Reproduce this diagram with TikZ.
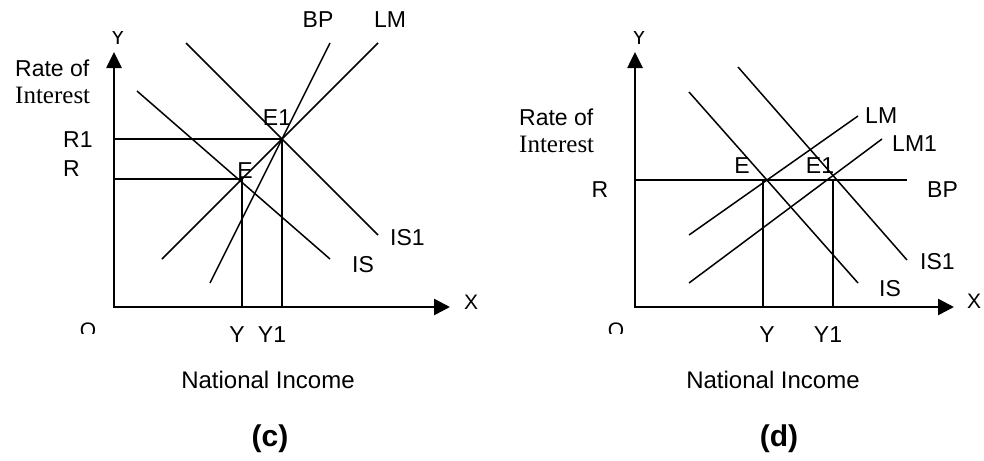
\documentclass[tikz,border=0pt]{standalone}
\usepackage{fontspec}
\setmainfont{Liberation Sans}
\newfontfamily\timesfont{Liberation Serif}
\usetikzlibrary{arrows.meta}

\begin{document}
\begin{tikzpicture}[x=1pt,y=-1pt,
  lbl/.style={font=\fontsize{23}{27}\selectfont,inner sep=0pt},
  small/.style={font=\fontsize{21}{25}\selectfont,inner sep=0pt},
  serif/.style={font=\timesfont\fontsize{25}{29}\selectfont,inner sep=0pt},
  caption/.style={font=\fontsize{24}{28}\selectfont,inner sep=0pt},
  tag/.style={font=\bfseries\fontsize{30}{34}\selectfont,inner sep=0pt},
  axis/.style={line width=2.6pt,{Triangle[length=16pt,width=15pt]}-{Triangle[length=16pt,width=16pt]}},
  curve/.style={line width=1.5pt},
  guide/.style={line width=1.5pt}]
  \useasboundingbox (0,0) rectangle (984,460);
  % panel (c)
  \coordinate (oc) at (114,307);
  \coordinate (ec) at (242,179);
  \coordinate (e1c) at (282,139);
  \draw[axis] (114,52) -- (oc) -- (450,307);
  \draw[guide] (oc |- e1c) -- (e1c) -- (e1c |- oc);
  \draw[guide] (oc |- ec) -- (ec) -- (ec |- oc);
  \draw[curve] (186,43) -- (378,235);
  \draw[curve] (137,91) -- (330,259);
  \draw[curve] (378,43) -- (162,259);
  \draw[curve] (330,43) -- (210,283);
  \begin{scope}
    \clip (90,32) rectangle (150,60);
    \node[small,anchor=base] (yaxc) at (118,45) {Y};
  \end{scope}
  \begin{scope}
    \clip (60,300) rectangle (120,333);
    \node[small,anchor=base] (oric) at (88,337) {O};
  \end{scope}
  \node[lbl,anchor=base] (bpc) at (318,28) {BP};
  \node[lbl,anchor=base] (lmc) at (390,28) {LM};
  \node[lbl,anchor=base west] (ratec) at (15,76) {Rate of};
  \node[serif,anchor=base west] (intc) at (15,103) {Interest};
  \node[lbl,anchor=base west] (r1c) at (63,147) {R1};
  \node[lbl,anchor=base west] (rc) at (63,176) {R};
  \node[lbl,anchor=base] (e1lc) at (277,125) {E1};
  \node[lbl,anchor=base] (elc) at (245,178) {E};
  \node[lbl,anchor=base west] (is1c) at (390,245) {IS1};
  \node[lbl,anchor=base west] (isc) at (352,272) {IS};
  \node[small,anchor=base] (xc) at (471,309) {X};
  \node[lbl,anchor=base] (yc) at (237,342) {Y};
  \node[lbl,anchor=base] (y1c) at (272,342) {Y1};
  \node[caption,anchor=base] (nic) at (268,388) {National Income};
  \node[tag,anchor=base] (tagc) at (270,446) {(c)};
  % panel (d)
  \coordinate (od) at (635,307);
  \coordinate (ed) at (763,180);
  \coordinate (e1d) at (833,180);
  \draw[axis] (635,52) -- (od) -- (954,307);
  \draw[guide] (od |- ed) -- (907,180);
  \draw[guide] (ed) -- (ed |- od);
  \draw[guide] (e1d) -- (e1d |- od);
  \draw[curve] (689,92) -- (858,283);
  \draw[curve] (738,67) -- (907,260);
  \draw[curve] (858,116) -- (689,235);
  \draw[curve] (882,139) -- (689,283);
  \begin{scope}
    \clip (610,32) rectangle (670,60);
    \node[small,anchor=base] (yaxd) at (639,45) {Y};
  \end{scope}
  \begin{scope}
    \clip (590,300) rectangle (640,333);
    \node[small,anchor=base] (orid) at (616,337) {O};
  \end{scope}
  \node[lbl,anchor=base west] (rated) at (519,125) {Rate of};
  \node[serif,anchor=base west] (intd) at (519,152) {Interest};
  \node[lbl,anchor=base] (rd) at (600,197) {R};
  \node[lbl,anchor=base west] (bpd) at (927,197) {BP};
  \node[lbl,anchor=base west] (lmd) at (865,123) {LM};
  \node[lbl,anchor=base west] (lm1d) at (892,151) {LM1};
  \node[lbl,anchor=base] (eld) at (742,173) {E};
  \node[lbl,anchor=base] (e1ld) at (820,173) {E1};
  \node[lbl,anchor=base west] (is1d) at (920,269) {IS1};
  \node[lbl,anchor=base west] (isd) at (879,296) {IS};
  \node[small,anchor=base] (xd) at (974,308) {X};
  \node[lbl,anchor=base] (yd) at (767,342) {Y};
  \node[lbl,anchor=base] (y1d) at (828,342) {Y1};
  \node[caption,anchor=base] (nid) at (773,388) {National Income};
  \node[tag,anchor=base] (tagd) at (779,446) {(d)};
\end{tikzpicture}
\end{document}
